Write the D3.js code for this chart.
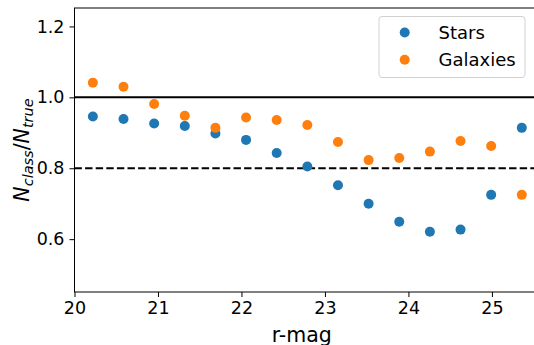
<!DOCTYPE html>
<html lang="en">
<head>
<meta charset="UTF-8">
<title>N_class / N_true vs r-mag</title>
<script src="https://d3js.org/d3.v7.min.js"></script>
<style>
  body { margin: 0; background: #fff; }
  svg { display: block; font-family: "DejaVu Sans", sans-serif; }
</style>
</head>
<body>
<script>
  // magnitude bin centres
  const rmag = [20.22, 20.587, 20.954, 21.321, 21.688, 22.055, 22.422, 22.789,
                23.156, 23.523, 23.89, 24.257, 24.624, 24.991, 25.358];
  const stars = [0.946, 0.939, 0.926, 0.919, 0.898, 0.880, 0.843, 0.805,
                 0.752, 0.700, 0.649, 0.621, 0.627, 0.725, 0.914];
  const galaxies = [1.041, 1.030, 0.981, 0.948, 0.914, 0.943, 0.936, 0.922,
                    0.874, 0.823, 0.829, 0.847, 0.877, 0.863, 0.725];
  const xTicks = [20, 21, 22, 23, 24, 25];
  const yTicks = [0.6, 0.8, 1.0, 1.2];
  const seriesNames = ['Stars', 'Galaxies'];
  const colors = ['#1f77b4', '#ff7f0e'];

  const W = 534, H = 345;
  const margin = { top: 8, right: -3, bottom: 53, left: 74.5 };

  const svg = d3.select('body').append('svg')
    .attr('width', W).attr('height', H);

  const x = d3.scaleLinear().domain([20, 25.54]).range([margin.left, W - margin.right]);
  const y = d3.scaleLinear().domain([0.451, 1.252]).range([H - margin.bottom, margin.top]);

  // axes
  const xAxis = svg.append('g')
    .attr('transform', `translate(0,${H - margin.bottom})`)
    .call(d3.axisBottom(x).tickValues(xTicks).tickFormat(d3.format('d')).tickSize(5).tickPadding(5));
  const yAxis = svg.append('g')
    .attr('transform', `translate(${margin.left},0)`)
    .call(d3.axisLeft(y).tickValues(yTicks).tickFormat(d3.format('.1f')).tickSize(5).tickPadding(5));

  [xAxis, yAxis].forEach(a => {
    a.selectAll('text').style('font-size', '17.5px').attr('fill', '#000')
      .style('font-family', '"DejaVu Sans", sans-serif');
    a.selectAll('line').attr('stroke', '#000').attr('stroke-width', 1);
    a.select('.domain').remove();
  });

  // spines
  svg.append('rect')
    .attr('x', margin.left).attr('y', margin.top)
    .attr('width', x(25.54) - margin.left)
    .attr('height', y(0.451) - margin.top)
    .attr('fill', 'none').attr('stroke', '#000').attr('stroke-width', 1);

  // reference lines
  svg.append('line')
    .attr('x1', x(20)).attr('x2', x(25.54))
    .attr('y1', y(1.0)).attr('y2', y(1.0))
    .attr('stroke', '#000').attr('stroke-width', 2);
  svg.append('line')
    .attr('x1', x(20)).attr('x2', x(25.54))
    .attr('y1', y(0.8)).attr('y2', y(0.8))
    .attr('stroke', '#000').attr('stroke-width', 2)
    .attr('stroke-dasharray', '7.4,3.2');

  // points
  [stars, galaxies].forEach((vals, i) => {
    svg.append('g').selectAll('circle')
      .data(vals)
      .join('circle')
      .attr('cx', (d, j) => x(rmag[j]))
      .attr('cy', d => y(d))
      .attr('r', 5)
      .attr('fill', colors[i]);
  });

  // axis labels
  svg.append('text')
    .attr('x', (margin.left + W - margin.right) / 2 - 4)
    .attr('y', 342)
    .attr('text-anchor', 'middle')
    .style('font-size', '20.5px')
    .text('r-mag');

  const yl = svg.append('text')
    .attr('transform', `translate(29,${(margin.top + H - margin.bottom) / 2}) rotate(-90)`)
    .attr('text-anchor', 'middle')
    .style('font-size', '20.5px');
  yl.append('tspan').attr('font-style', 'italic').text('N');
  yl.append('tspan').attr('font-style', 'italic').attr('dy', 4).style('font-size', '14.5px').text('class');
  yl.append('tspan').attr('dy', -4).text('/');
  yl.append('tspan').attr('font-style', 'italic').text('N');
  yl.append('tspan').attr('font-style', 'italic').attr('dy', 4).style('font-size', '14.5px').text('true');

  // legend
  const lg = svg.append('g');
  lg.append('rect')
    .attr('x', 379).attr('y', 16.5).attr('width', 146).attr('height', 61)
    .attr('rx', 3)
    .attr('fill', 'rgba(255,255,255,0.8)')
    .attr('stroke', '#d0d0d0').attr('stroke-width', 1);
  seriesNames.forEach((name, i) => {
    const cy = 32.5 + i * 27.3;
    lg.append('circle').attr('cx', 404.7).attr('cy', cy).attr('r', 5).attr('fill', colors[i]);
    lg.append('text').attr('x', 438.5).attr('y', cy + 6.5)
      .style('font-size', '18px').text(name);
  });
</script>
</body>
</html>
